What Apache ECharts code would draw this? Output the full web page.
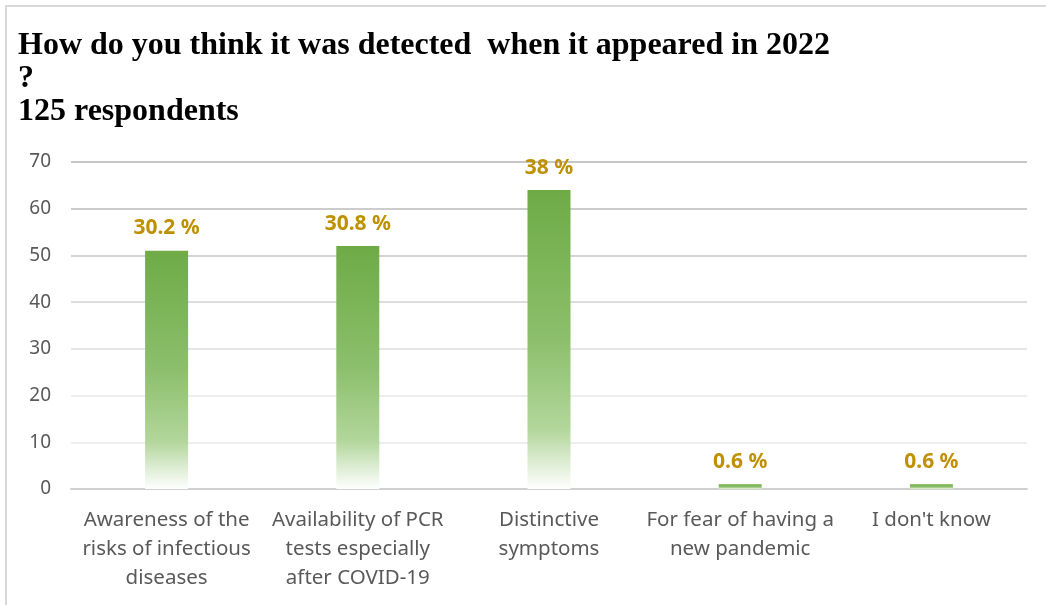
<!DOCTYPE html>
<html>
<head>
<meta charset="utf-8">
<script src="https://cdn.jsdelivr.net/npm/echarts@6/dist/echarts.min.js"></script>
<style>
  html, body { margin: 0; padding: 0; background: #fff; }
  #frame { position: absolute; left: 5px; top: 5px; width: 1041px; height: 600px;
           border-left: 2px solid #d9d9d9; border-top: 2px solid #d9d9d9; box-sizing: border-box; }
  #chart { position: absolute; left: 0; top: 0; width: 1046px; height: 605px; }
</style>
</head>
<body>
<div id="frame"></div>
<div id="chart"></div>
<script>
// Survey answers: how the outbreak was detected
const categories = [
  'Awareness of the\nrisks of infectious\ndiseases',
  'Availability of PCR\ntests especially\nafter COVID-19',
  'Distinctive\nsymptoms',
  'For fear of having a\nnew pandemic',
  "I don't know"
];
const counts = [51, 52, 64, 1, 1];
const shareLabels = ['30.2 %', '30.8 %', '38 %', '0.6 %', '0.6 %'];
const yTicks = [0, 10, 20, 30, 40, 50, 60, 70];

const sans = '"Noto Sans", "Open Sans", sans-serif';
const chart = echarts.init(document.getElementById('chart'), null, { renderer: 'canvas' });

chart.setOption({
  animation: false,
  title: {
    text: 'How do you think it was detected  when it appeared in 2022\n?\n125 respondents',
    left: 13,
    top: 24,
    textStyle: {
      fontFamily: '"Liberation Serif", "Times New Roman", serif',
      fontWeight: 'bold',
      fontSize: 32,
      lineHeight: 33,
      color: '#000'
    }
  },
  grid: { left: 71, right: 19, top: 162, bottom: 116 },
  xAxis: {
    type: 'category',
    data: categories,
    axisLine: { lineStyle: { color: '#d0d0d0', width: 2 } },
    axisTick: { show: false },
    axisLabel: {
      interval: 0,
      margin: 17,
      fontFamily: sans,
      fontSize: 20.5,
      lineHeight: 29,
      color: '#595959'
    }
  },
  yAxis: {
    type: 'value',
    min: yTicks[0],
    max: yTicks[yTicks.length - 1],
    interval: 10,
    axisLine: { show: false },
    axisTick: { show: false },
    axisLabel: {
      margin: 20,
      fontFamily: sans,
      fontSize: 19,
      color: '#595959'
    },
    splitLine: {
      lineStyle: {
        width: 2,
        color: ['#d0d0d0', '#eeeeee', '#eeeeee', '#e6e6e6', '#dddddd', '#d4d4d4', '#cccccc', '#c6c6c6']
      }
    }
  },
  series: [{
    type: 'bar',
    data: counts,
    barWidth: 43,
    itemStyle: {
      color: new echarts.graphic.LinearGradient(0, 0, 0, 1, [
        { offset: 0, color: '#6eab46' },
        { offset: 0.5, color: '#8cbf6c' },
        { offset: 0.8, color: '#b2d69b' },
        { offset: 1, color: '#ffffff' }
      ])
    },
    label: {
      show: true,
      position: 'top',
      distance: 12,
      formatter: p => shareLabels[p.dataIndex],
      fontFamily: sans,
      fontWeight: 'bold',
      fontSize: 21,
      color: '#bf9000'
    }
  }]
});
</script>
</body>
</html>
